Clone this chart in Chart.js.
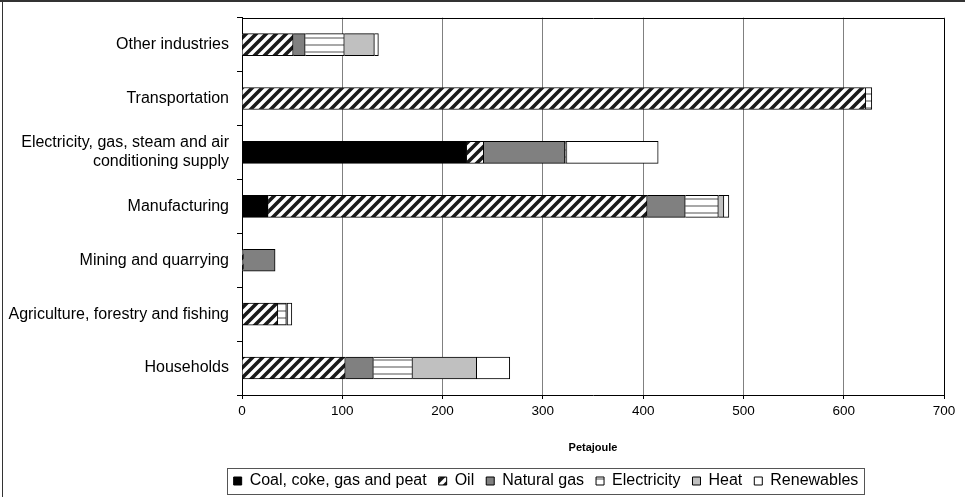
<!DOCTYPE html>
<html>
<head>
<meta charset="utf-8">
<script src="https://cdn.jsdelivr.net/npm/chart.js@4.4.0/dist/chart.umd.min.js"></script>
<style>
  body { margin: 0; background: #fff; }
  canvas { display: block; }
</style>
</head>
<body>
<canvas id="chart-energy" width="965" height="497"></canvas>
<script>
//=================================================================
// DATA
//=================================================================
const categories = [
    'Other industries',
    'Transportation',
    ['Electricity, gas, steam and air', 'conditioning supply'],
    'Manufacturing',
    'Mining and quarrying',
    'Agriculture, forestry and fishing',
    'Households'
];
const coal        = [0,   0,   224, 26,  0,   0.7, 0];
const oil         = [51,  622, 17,  378, 1.5, 35,  103];
const naturalGas  = [12,  0,   81,  38,  31.5, 0,  28];
const electricity = [39,  6,   0.5, 33,  0,   8.5, 39];
const heat        = [30,  0,   1.5, 5.5, 0,   1.5, 64];
const renewables  = [4,   0,   91,  5,   0,   4,   33];
const xTicks      = [0, 100, 200, 300, 400, 500, 600, 700];

//=================================================================
// PATTERNS (hatch for oil, horizontal lines for electricity)
//=================================================================
function hatchPattern() {
    const c = document.createElement('canvas');
    c.width = 10; c.height = 10;
    const g = c.getContext('2d');
    g.fillStyle = '#fff';
    g.fillRect(0, 0, 10, 10);
    g.strokeStyle = '#1a1a1a';
    g.lineWidth = 3.6;
    g.beginPath();
    g.moveTo(-5, 5); g.lineTo(5, -5);
    g.moveTo(0, 10); g.lineTo(10, 0);
    g.moveTo(5, 15); g.lineTo(15, 5);
    g.stroke();
    return g.createPattern(c, 'repeat');
}
function linePattern() {
    const c = document.createElement('canvas');
    c.width = 4; c.height = 7;
    const g = c.getContext('2d');
    g.fillStyle = '#fff';
    g.fillRect(0, 0, 4, 7);
    g.fillStyle = '#a8a8a8';
    g.fillRect(0, 2, 4, 2);
    return g.createPattern(c, 'repeat');
}

// cadre du graphique + boite de legende
const framePlugin = {
    id: 'frame',
    afterLayout(chart) {
        // legende decalee comme dans l'original
        chart.legend.left += 74;
        chart.legend.right += 74;
        chart.legend.top += 2;
        chart.legend.bottom += 2;
    },
    afterDraw(chart) {
        const ctx = chart.ctx;
        const a = chart.chartArea;
        ctx.save();
        ctx.strokeStyle = '#000';
        ctx.lineWidth = 1;
        ctx.beginPath();
        ctx.moveTo(a.left, Math.round(a.top) + 0.5);
        ctx.lineTo(Math.round(a.right) + 0.5, Math.round(a.top) + 0.5);
        ctx.lineTo(Math.round(a.right) + 0.5, a.bottom);
        ctx.stroke();
        // legende
        const boxes = chart.legend.legendHitBoxes;
        if (boxes && boxes.length) {
            const l = Math.min(...boxes.map(b => b.left)) - 7;
            const r = Math.max(...boxes.map(b => b.left + b.width)) + 5;
            const t = Math.min(...boxes.map(b => b.top)) - 5;
            const bt = Math.max(...boxes.map(b => b.top + b.height)) + 5;
            ctx.strokeStyle = '#555';
            ctx.strokeRect(Math.round(l) + 0.5, Math.round(t) + 0.5, Math.round(r - l), Math.round(bt - t));
        }
        // bord exterieur
        ctx.fillStyle = '#333';
        ctx.fillRect(0, 0, chart.width, 2);
        ctx.fillRect(2, 0, 1, chart.height);
        ctx.restore();
    }
};

Chart.defaults.font.family = 'Arial, "Liberation Sans", sans-serif';
Chart.defaults.color = '#000';

const mk = (label, data, bg) => ({
    label: label,
    data: data,
    backgroundColor: bg,
    borderColor: '#000',
    borderWidth: 1,
    barThickness: 22
});

new Chart(document.getElementById('chart-energy'), {
    type: 'bar',
    data: {
        labels: categories,
        datasets: [
            mk('Coal, coke, gas and peat', coal, '#000000'),
            mk('Oil', oil, hatchPattern()),
            mk('Natural gas', naturalGas, '#808080'),
            mk('Electricity', electricity, linePattern()),
            mk('Heat', heat, '#c0c0c0'),
            mk('Renewables', renewables, '#ffffff')
        ]
    },
    options: {
        indexAxis: 'y',
        responsive: false,
        animation: false,
        layout: { padding: { top: 15, right: 21, left: 0, bottom: 0 } },
        plugins: {
            tooltip: { enabled: false },
            legend: {
                position: 'bottom',
                labels: {
                    boxWidth: 8,
                    boxHeight: 8,
                    padding: 12,
                    font: { size: 16 }
                }
            }
        },
        scales: {
            x: {
                stacked: true,
                min: 0,
                max: 700,
                afterBuildTicks: s => { s.ticks = xTicks.map(v => ({ value: v })); },
                afterFit: s => { s.height = 64; },
                grid: { color: '#808080', tickLength: 4, tickColor: '#000' },
                border: { color: '#000' },
                ticks: { font: { size: 13.5 }, padding: 4 },
                title: { display: true, text: 'Petajoule', font: { size: 11, weight: 'bold' }, padding: { top: 6, bottom: 4 } }
            },
            y: {
                stacked: true,
                afterFit: s => { s.width = 242; },
                grid: { drawOnChartArea: false, tickLength: 5, color: '#000' },
                border: { color: '#000' },
                ticks: { font: { size: 16 }, padding: 8 }
            }
        }
    },
    plugins: [framePlugin]
});
</script>
</body>
</html>
